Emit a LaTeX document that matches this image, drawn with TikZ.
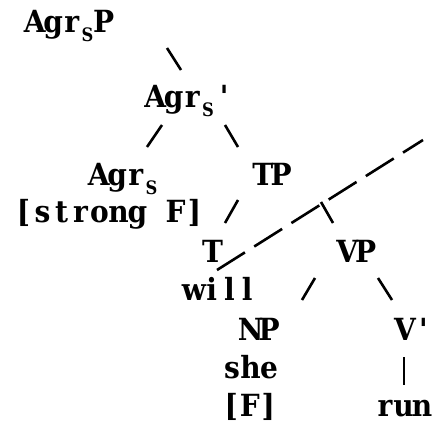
\documentclass[tikz,border=0pt]{standalone}
\usepackage{fontspec}
\usepackage{graphicx}
\newfontfamily\treefont{DejaVu Serif}
\newlength\cw \setlength\cw{18.5pt}
\newcommand\cc[1]{\makebox[\cw][c]{\scalebox{0.92}[1]{#1}}}
\newcommand\subs{\makebox[13.5pt][l]{\hspace{0.5pt}\raisebox{-9pt}{\scalebox{0.88}[1]{\fontsize{18.5}{20}\selectfont S}}}}
\newcommand\prm{\symbol{39}}
\tikzset{
  lab/.style={anchor=base west, inner sep=0pt, outer sep=0pt,
    font=\treefont\bfseries\fontsize{30.5}{36}\selectfont},
  br/.style={line width=2.6pt},
  dsh/.style={line width=2.6pt, dash pattern=on 33pt off 11pt}
}
\begin{document}
\begin{tikzpicture}[x=1pt,y=-1pt]
\useasboundingbox (0,0) rectangle (433,423);
\node[lab] (agrsp) at (25.5,32) {\cc{A}\cc{g}\cc{r}\subs\cc{P}};
\node[lab] (agrsbar) at (146,107) {\cc{A}\cc{g}\cc{r}\subs\cc{\prm}};
\node[lab] (agrs) at (89.5,185) {\cc{A}\cc{g}\cc{r}\subs};
\node[lab] (tp) at (253.5,185) {\cc{T}\cc{P}};
\node[lab] (feat) at (14,222) {\setlength\cw{19pt}\cc{[}\cc{s}\cc{t}\cc{r}\cc{o}\cc{n}\cc{g}\cc{}\cc{F}\cc{]}};
\node[lab] (t) at (203.25,262) {\cc{T}};
\node[lab] (vp) at (338,262) {\cc{V}\cc{P}};
\node[lab] (will) at (185,300) {\setlength\cw{17.8pt}\cc{w}\cc{i}\cc{l}\cc{l}};
\node[lab] (np) at (241.5,340) {\cc{N}\cc{P}};
\node[lab] (vbar) at (395.75,340) {\cc{V}\cc{\prm}};
\node[lab] (she) at (222.75,378) {\cc{s}\cc{h}\cc{e}};
\node[lab] (f) at (222,416) {\cc{[}\cc{F}\cc{]}};
\node[lab] (run) at (375.75,416) {\cc{r}\cc{u}\cc{n}};
\draw[br] (167,48) -- (181,70);
\draw[br] (162,125) -- (147,147);
\draw[br] (225,125) -- (238,147);
\draw[br] (238,200) -- (225,223);
\draw[br] (321,202) -- (333,223);
\draw[br] (315,278) -- (302,300);
\draw[br] (378,278) -- (392,300);
\draw[br] (404,357) -- (404,385);
\draw[dsh] (217,270) -- (423,140);
\end{tikzpicture}
\end{document}
